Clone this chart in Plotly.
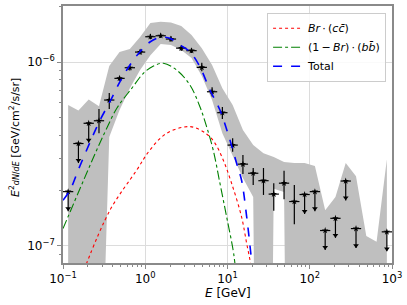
import numpy as np
import plotly.graph_objects as go

# ---------------- data ----------------
E_edges = [0.1, 0.1334, 0.1778, 0.2371, 0.3162, 0.4217, 0.5623, 0.7499,
           1.0, 1.334, 1.778, 2.371, 3.162, 4.217, 5.623, 7.499,
           10.0, 13.34, 17.78, 23.71, 31.62, 42.17, 56.23, 74.99,
           100.0, 133.4, 177.8, 237.1, 316.2, 421.7, 562.3, 749.9, 1000.0]

flux = [1.97e-7, 3.60e-7, 4.64e-7, 4.79e-7, 6.21e-7, 8.15e-7, 9.31e-7, 1.133e-6,
        1.373e-6, 1.39e-6, 1.334e-6, 1.19e-6, 1.153e-6, 9.35e-7, 6.89e-7, 5.30e-7,
        3.53e-7, 2.78e-7, 2.48e-7, 2.26e-7, 1.91e-7, 2.19e-7, 1.74e-7, 1.90e-7,
        1.97e-7, 1.21e-7, 1.41e-7, 2.25e-7, 1.24e-7, None, None, 1.19e-7]
flux_lo = [None, None, None, 4.10e-7, 5.55e-7, 7.9e-7, 9.0e-7, 1.10e-6,
           1.33e-6, 1.35e-6, 1.29e-6, 1.15e-6, 1.12e-6, 8.9e-7, 6.5e-7, 4.9e-7,
           3.25e-7, 2.46e-7, 2.14e-7, 1.89e-7, 1.55e-7, 1.79e-7, 1.31e-7, None,
           None, None, None, None, None, None, None, None]
flux_hi = [None, None, None, 5.55e-7, 6.78e-7, 8.4e-7, 9.6e-7, 1.17e-6,
           1.42e-6, 1.43e-6, 1.38e-6, 1.23e-6, 1.19e-6, 9.9e-7, 7.3e-7, 5.7e-7,
           3.85e-7, 3.12e-7, 2.65e-7, 2.65e-7, 2.19e-7, 2.56e-7, 2.14e-7, None,
           None, None, None, None, None, None, None, None]
upper_limit = [True, True, True] + [False] * 20 + [True] * 9

band_hi = [5.83e-7, 5.45e-7, 6.25e-7, 5.75e-7, 9.51e-7, 1.133e-6, 1.178e-6, 1.368e-6,
           1.63e-6, 1.656e-6, 1.64e-6, 1.571e-6, 1.404e-6, 1.19e-6, 9.63e-7, 7.21e-7,
           5.83e-7, 4.27e-7, 3.53e-7, 3.19e-7, 3.04e-7, 2.86e-7, 2.82e-7, 2.82e-7,
           2.72e-7, 1.56e-7, 1.84e-7, 2.82e-7, 2.39e-7, 1.13e-7, 1.05e-7, 2.96e-7]
band_lo = [0, 0, 0, 0, 3.91e-7, 5.48e-7, 7.21e-7, 9.04e-7,
           1.09e-6, 1.253e-6, 1.238e-6, 1.162e-6, 1.051e-6, 8.39e-7, 6.21e-7, 4.10e-7,
           3.12e-7, 2.34e-7, 1.84e-7, 0, 2.04e-7, 1.96e-7, 0, 0,
           0, 0, 0, 0, 0, 0, 0, 0]

# model curves (E [GeV], E^2 dN/dE)
cc_E = [0.180, 0.372, 0.787, 1.14, 1.82, 3.49, 5.57, 7.03, 8.87, 11.2, 14.8, 17.1, 19.0, 19.8]
cc_val = [7.38e-8, 1.56e-7, 2.58e-7, 3.32e-7, 4.09e-7, 4.45e-7, 4.06e-7, 3.62e-7,
          2.93e-7, 2.19e-7, 1.44e-7, 1.03e-7, 8.05e-8, 6.5e-8]
bb_E = [0.100, 0.257, 0.333, 0.453, 0.689, 0.956, 1.26, 1.66, 2.41, 3.49, 4.62, 5.57,
        6.70, 8.09, 9.75, 11.7, 12.3, 13.0]
bb_val = [1.24e-7, 3.32e-7, 4.27e-7, 5.62e-7, 7.21e-7, 8.71e-7, 9.51e-7, 9.84e-7,
          9.04e-7, 7.50e-7, 5.71e-7, 4.45e-7, 3.32e-7, 2.19e-7, 1.44e-7, 9.48e-8,
          8.05e-8, 6.5e-8]
tot_E = [0.100, 0.122, 0.153, 0.194, 0.233, 0.282, 0.372, 0.493, 0.652, 0.863,
         1.14, 1.51, 2.00, 2.64, 3.49, 4.62, 6.11, 8.09, 10.7, 12.9, 14.8, 17.1, 19.6, 20.9]
tot_val = [1.77e-7, 2.01e-7, 2.58e-7, 3.32e-7, 4.01e-7, 4.83e-7, 6.08e-7, 7.82e-7,
           9.64e-7, 1.137e-6, 1.285e-6, 1.36e-6, 1.345e-6, 1.238e-6, 1.137e-6, 9.42e-7,
           7.04e-7, 5.48e-7, 3.76e-7, 2.81e-7, 2.28e-7, 1.44e-7, 8.36e-8, 6.5e-8]

x_ticks = [0.1, 1, 10, 100, 1000]
x_ticktext = ["10<sup>−1</sup>", "10<sup>0</sup>", "10<sup>1</sup>", "10<sup>2</sup>", "10<sup>3</sup>"]
y_ticks = [1e-7, 1e-6]
y_ticktext = ["10<sup>−7</sup>", "10<sup>−6</sup>"]

# ---------------- derived ----------------
edges = np.array(E_edges)
E = np.sqrt(edges[:-1] * edges[1:])
ex_minus = E - edges[:-1]
ex_plus = edges[1:] - E

UL_TIP = 0.783      # arrow length factor (visual)
UL_HEAD = 0.81
FLOOR = 1e-12

FONT = "DejaVu Sans"
AX = "#8a8a8a"

fig = go.Figure()

# band
blo = [v if v > 0 else FLOOR for v in band_lo]
fig.add_trace(go.Scatter(
    x=list(E) + list(E[::-1]), y=band_hi + blo[::-1],
    fill="toself", fillcolor="#bfbfbf", line=dict(width=0), mode="lines",
    hoverinfo="skip", showlegend=False))

# measured points
mi = [i for i in range(len(flux)) if flux[i] is not None and not upper_limit[i]]
fig.add_trace(go.Scatter(
    x=E[mi], y=[flux[i] for i in mi], mode="markers",
    marker=dict(symbol="star", size=5, color="black"),
    error_x=dict(type="data", symmetric=False, array=ex_plus[mi], arrayminus=ex_minus[mi],
                 color="black", thickness=1.2, width=0),
    error_y=dict(type="data", symmetric=False,
                 array=[flux_hi[i] - flux[i] for i in mi],
                 arrayminus=[flux[i] - flux_lo[i] for i in mi],
                 color="black", thickness=1.2, width=0),
    showlegend=False))

# upper limits
ui = [i for i in range(len(flux)) if flux[i] is not None and upper_limit[i]]
fig.add_trace(go.Scatter(
    x=E[ui], y=[flux[i] for i in ui], mode="markers",
    marker=dict(symbol="star", size=5, color="black"),
    error_x=dict(type="data", symmetric=False, array=ex_plus[ui], arrayminus=ex_minus[ui],
                 color="black", thickness=1.2, width=0),
    error_y=dict(type="data", symmetric=False, array=[0] * len(ui),
                 arrayminus=[flux[i] * (1 - UL_TIP) for i in ui],
                 color="black", thickness=1.2, width=0),
    showlegend=False))
fig.add_trace(go.Scatter(
    x=E[ui], y=[flux[i] * UL_HEAD for i in ui], mode="markers",
    marker=dict(symbol="triangle-down", size=5, color="black"),
    showlegend=False))

# model curves
fig.add_trace(go.Scatter(
    x=cc_E, y=cc_val, mode="lines", line=dict(color="#ff0000", width=1.1, dash="dot", shape="spline"),
    name="<i>Br</i>\u2009·\u2009(<i>c</i><i>c\u0304</i>)"))
fig.add_trace(go.Scatter(
    x=bb_E, y=bb_val, mode="lines", line=dict(color="#008000", width=1.1, dash="dashdot", shape="spline"),
    name="(1\u2009−\u2009<i>Br</i>)\u2009·\u2009(<i>b</i><i>b\u0304</i>)"))
fig.add_trace(go.Scatter(
    x=tot_E, y=tot_val, mode="lines", line=dict(color="#0000ff", width=1.6, dash="dash", shape="spline"),
    name="Total"))

minor_x = [m * 10.0 ** k for k in range(-1, 3) for m in range(2, 10)]
minor_y = [m * 10.0 ** k for k in range(-8, -5) for m in range(2, 10)]

axis_common = dict(
    type="log", showline=True, linecolor=AX, linewidth=1.5, mirror=True,
    ticks="outside", ticklen=4, tickwidth=1, tickcolor=AX,
    showgrid=True, gridcolor="#dcdcdc", gridwidth=1, zeroline=False, automargin=False,
    tickfont=dict(family=FONT, size=12, color="black"),
)

fig.update_layout(
    width=407, height=305,
    margin=dict(l=63, r=15, t=6, b=42, autoexpand=False),
    paper_bgcolor="white", plot_bgcolor="white",
    font=dict(family=FONT, size=12, color="black"),
    xaxis=dict(**axis_common, range=[-1, 3], tickmode="array", tickvals=x_ticks, ticktext=x_ticktext,
               minor=dict(tickvals=minor_x, ticks="outside", ticklen=2.5, tickcolor=AX, showgrid=False)),
    yaxis=dict(**axis_common, range=[-7.094, -5.695], tickmode="array", tickvals=y_ticks, ticktext=y_ticktext,
               minor=dict(tickvals=minor_y, ticks="outside", ticklen=2.5, tickcolor=AX, showgrid=False)),
    legend=dict(x=0.982, y=0.974, xanchor="right", yanchor="top",
                bgcolor="rgba(255,255,255,0.85)", bordercolor="#cccccc", borderwidth=1,
                font=dict(family=FONT, size=11), itemwidth=30, tracegroupgap=0),
    annotations=[
        dict(text="<i>E</i> [GeV]", xref="paper", yref="paper", x=0.5, y=-0.117,
             xanchor="center", yanchor="middle", showarrow=False,
             font=dict(family=FONT, size=12)),
        dict(text="<i>E</i><sup>2</sup><span style='font-size:8px'><i>dN</i>/<i>dE</i></span> [GeV/cm<sup>2</sup>/s/sr]",
             xref="paper", yref="paper", x=-0.149, y=0.49, textangle=-90,
             xanchor="center", yanchor="middle", showarrow=False,
             font=dict(family=FONT, size=11)),
    ],
)

fig.write_html("out.html", config={"displayModeBar": False},
               post_script="document.body.style.margin='0';document.body.style.overflow='hidden';")
